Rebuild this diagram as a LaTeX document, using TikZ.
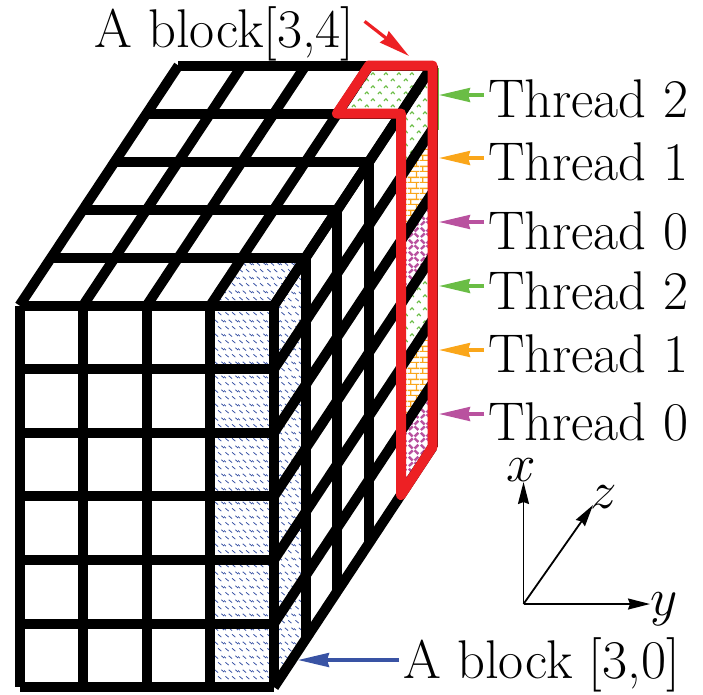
\documentclass[tikz,border=0pt]{standalone}
\usepackage{fix-cm}
\usetikzlibrary{arrows.meta,patterns}
\definecolor{threadgreen}{HTML}{6ABD45}
\definecolor{threadorange}{HTML}{FAA61A}
\definecolor{threadpurple}{HTML}{B9529F}
\definecolor{blockblue}{HTML}{3953A4}
\definecolor{blockred}{HTML}{ED2024}
\newcommand{\tileseg}[4]{\pgfpathmoveto{\pgfqpoint{#1pt}{#2pt}}\pgfpathlineto{\pgfqpoint{#3pt}{#4pt}}\pgfusepath{stroke}}
\pgfdeclarepatternformonly{blockdash}{\pgfqpoint{0pt}{0pt}}{\pgfqpoint{14pt}{14pt}}{\pgfqpoint{14pt}{14pt}}{
 \pgfsetlinewidth{.85pt}
 \tileseg{1.5}{5}{5}{2}
 \tileseg{8.5}{5}{12}{2}
 \tileseg{5}{12}{8.5}{9}
 \tileseg{12}{12}{15}{9.5}
 \tileseg{-1}{12}{2}{9.5}
}
\pgfdeclarepatternformonly{threadcaret}{\pgfqpoint{0pt}{0pt}}{\pgfqpoint{13pt}{13pt}}{\pgfqpoint{13pt}{13pt}}{
 \pgfsetlinewidth{1.2pt}
 \tileseg{1}{2}{3}{4.5}
 \tileseg{3}{4.5}{5}{2}
 \tileseg{7.5}{8.5}{9.5}{11}
 \tileseg{9.5}{11}{11.5}{8.5}
}
\pgfdeclarepatternformonly{threadbrick}{\pgfqpoint{0pt}{0pt}}{\pgfqpoint{12pt}{10.6pt}}{\pgfqpoint{12pt}{10.6pt}}{
 \pgfsetlinewidth{1.3pt}
 \tileseg{0}{.5}{12}{.5}
 \tileseg{0}{5.8}{12}{5.8}
 \tileseg{3}{.5}{3}{5.8}
 \tileseg{9}{5.8}{9}{11.1}
}
\pgfdeclarepatternformonly{threadweave}{\pgfqpoint{0pt}{0pt}}{\pgfqpoint{12pt}{12pt}}{\pgfqpoint{12pt}{12pt}}{
 \pgfsetlinewidth{2.6pt}
 \tileseg{1}{1}{5}{5}
 \tileseg{7}{7}{11}{11}
 \tileseg{7}{5}{11}{1}
 \tileseg{1}{11}{5}{7}
}
\tikzset{
 gridline/.style={line width=10pt,black},
 redline/.style={line width=10pt,blockred,line join=round},
 bigtext/.style={inner xsep=4pt,inner ysep=0pt,anchor=base west,font=\fontsize{54.5}{60}\selectfont},
 mathtext/.style={inner sep=0pt,font=\fontsize{53}{60}\selectfont},
 pointer/.style={line width=3.2pt,-{Stealth[length=31pt,width=14pt,inset=2pt]}},
 axisline/.style={line width=1.8pt,-{Stealth[length=22pt,width=11pt,inset=2pt]}}
}
\begin{document}
\begin{tikzpicture}[x=1pt,y=-1pt]
 \useasboundingbox (0,0) rectangle (703,694);
 % hatched cells
 \fill[pattern=blockdash,pattern color=blockblue] (210.5,305.5)--(274,305.5)--(305.7,257.5)--(242.2,257.5)--cycle;
 \fill[pattern=blockdash,pattern color=blockblue] (210.5,305.5) rectangle (274,687);
 \fill[pattern=blockdash,pattern color=blockblue] (274,305.5)--(305.7,257.5)--(305.7,639)--(274,687)--cycle;
 \fill[pattern=threadcaret,pattern color=threadgreen] (337,113.5)--(369,65.5)--(432.5,65.5)--(401,113.5)--cycle;
 \fill[pattern=threadcaret,pattern color=threadgreen] (401,113.5)--(432.5,65.5)--(432.5,129.1)--(401,177.1)--cycle;
 \fill[pattern=threadbrick,pattern color=threadorange] (401,177.1)--(432.5,129.1)--(432.5,192.7)--(401,240.7)--cycle;
 \fill[pattern=threadweave,pattern color=threadpurple] (401,240.7)--(432.5,192.7)--(432.5,256.3)--(401,304.3)--cycle;
 \fill[pattern=threadcaret,pattern color=threadgreen] (401,304.3)--(432.5,256.3)--(432.5,319.9)--(401,367.9)--cycle;
 \fill[pattern=threadbrick,pattern color=threadorange] (401,367.9)--(432.5,319.9)--(432.5,383.5)--(401,431.5)--cycle;
 \fill[pattern=threadweave,pattern color=threadpurple] (401,431.5)--(432.5,383.5)--(432.5,447)--(401,495)--cycle;
 \draw[line width=2pt,threadgreen] (437.5,68)--(437.5,130);
 % cube grid
 \foreach \i in {0,...,6} {
  \draw[gridline,line cap=square] (19.5,305.5+63.6*\i)--(274,305.5+63.6*\i);
  \draw[gridline] (274,305.5+63.6*\i)--(432.5,65.5+63.6*\i);
 }
 \foreach \i in {0,...,4}
  \draw[gridline,line cap=square] (19.5+63.6*\i,305.5)--(19.5+63.6*\i,687.1);
 \foreach \i in {0,...,4}
  \draw[gridline] (19.5+63.6*\i,305.5)--(178.5+63.6*\i,65.5);
 \foreach \i in {1,...,5} {
  \draw[gridline] (19.5+31.7*\i,305.5-48*\i)--(274+31.7*\i,305.5-48*\i);
  \draw[gridline] (274+31.7*\i,305.5-48*\i)--(274+31.7*\i,687.1-48*\i);
 }
 \draw[redline] (337,113.5)--(369,65.5)--(432.5,65.5)--(432.5,447)--(401,495)--(401,113.5)--cycle;
 % labels
 \node[bigtext] (blockTop) at (90,47) {A block[3,4]};
 \node[bigtext] (blockLow) at (399,678) {A block [3,0]};
 \node[bigtext] (threadTwoA) at (484,117) {Thread 2};
 \node[bigtext] (threadOneA) at (484,180) {Thread 1};
 \node[bigtext] (threadZeroA) at (484,249) {Thread 0};
 \node[bigtext] (threadTwoB) at (484,309) {Thread 2};
 \node[bigtext] (threadOneB) at (484,372) {Thread 1};
 \node[bigtext] (threadZeroB) at (484,440) {Thread 0};
 \coordinate (tipTop) at (409,56);
 \coordinate (tipLow) at (298,660);
 \coordinate (tipTwoA) at (439,95);
 \coordinate (tipOneA) at (439,158);
 \coordinate (tipZeroA) at (439,222);
 \coordinate (tipTwoB) at (439,286);
 \coordinate (tipOneB) at (439,350);
 \coordinate (tipZeroB) at (439,414);
 \draw[pointer,blockred] ([xshift=6pt,yshift=12pt]blockTop.east)--(tipTop);
 \draw[pointer,blockblue] (blockLow.west |- tipLow)--(tipLow);
 \draw[pointer,threadgreen] (threadTwoA.west |- tipTwoA)--(tipTwoA);
 \draw[pointer,threadorange] (threadOneA.west |- tipOneA)--(tipOneA);
 \draw[pointer,threadpurple] (threadZeroA.west |- tipZeroA)--(tipZeroA);
 \draw[pointer,threadgreen] (threadTwoB.west |- tipTwoB)--(tipTwoB);
 \draw[pointer,threadorange] (threadOneB.west |- tipOneB)--(tipOneB);
 \draw[pointer,threadpurple] (threadZeroB.west |- tipZeroB)--(tipZeroB);
 % axes
 \coordinate (axisOrigin) at (523.5,604);
 \coordinate (axisTipX) at (523.5,482);
 \coordinate (axisTipY) at (650,604);
 \coordinate (axisTipZ) at (593,505);
 \draw[axisline] (axisOrigin)--(axisTipX);
 \draw[axisline] (axisOrigin)--(axisTipY);
 \draw[axisline] (axisOrigin)--(axisTipZ);
 \node[mathtext] (labelX) at (521.5,470) {$x$};
 \node[mathtext] (labelY) at (664.5,609) {$y$};
 \node[mathtext] (labelZ) at (604,497) {$z$};
\end{tikzpicture}
\end{document}
